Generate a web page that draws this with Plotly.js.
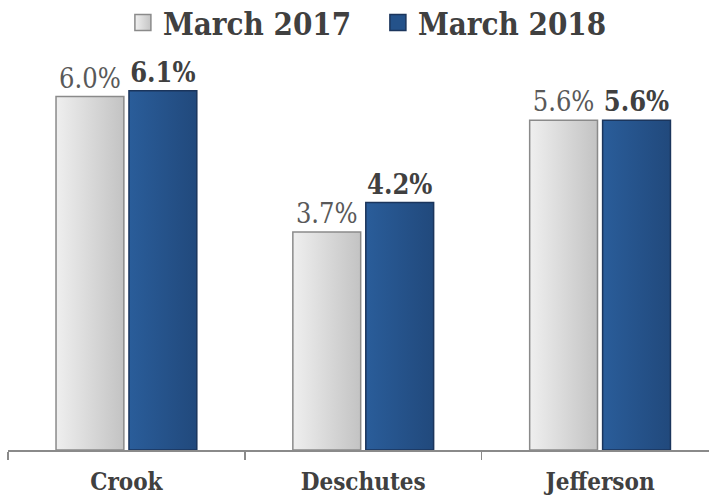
<!DOCTYPE html>
<html>
<head>
<meta charset="utf-8">
<script src="https://cdn.plot.ly/plotly-3.0.1.min.js"></script>
<style>html,body{margin:0;padding:0;background:#fff;}#chart{width:709px;height:497px;}</style>
</head>
<body>
<div id="chart"></div>
<script>
var categories = ["Crook", "Deschutes", "Jefferson"];
var seriesNames = ["March 2017", "March 2018"];
var values2017 = [6.0, 3.7, 5.6];
var values2018 = [6.1, 4.2, 5.6];

function fmt(v){ return v.toFixed(1) + "%"; }
var FONT = "'DejaVu Serif Condensed', 'DejaVu Serif', serif";

var traces = [
  {
    type: "bar", name: seriesNames[0], x: categories, y: values2017,
    text: values2017.map(fmt), textposition: "outside", cliponaxis: false,
    textfont: {family: FONT, size: 27, color: "#595959"},
    marker: {color: "#d9d9d9", line: {color: "#8a8a8a", width: 1.5}},
    showlegend: false, hoverinfo: "none"
  },
  {
    type: "bar", name: seriesNames[1], x: categories, y: values2018,
    text: values2018.map(fmt), textposition: "outside", cliponaxis: false,
    textfont: {family: FONT, size: 27, color: "#404040", weight: "bold"},
    marker: {color: "#24528a", line: {color: "#1b355c", width: 1.5}},
    showlegend: false, hoverinfo: "none"
  },
  {
    type: "scatter", mode: "markers", name: seriesNames[0], x: [null], y: [null],
    marker: {symbol: "square", size: 16, color: "#f0f0f0", gradient: {type: "horizontal", color: "#c4c4c4"}, line: {color: "#8a8a8a", width: 1.5}},
    showlegend: true, hoverinfo: "none"
  },
  {
    type: "scatter", mode: "markers", name: seriesNames[1], x: [null], y: [null],
    marker: {symbol: "square", size: 16, color: "#24528a", line: {color: "#1b355c", width: 1.5}},
    showlegend: true, hoverinfo: "none"
  }
];

var layout = {
  width: 709, height: 497,
  margin: {l: 8, r: 0, t: 60, b: 47},
  paper_bgcolor: "#ffffff", plot_bgcolor: "#ffffff",
  barmode: "group", bargap: 0.384, bargroupgap: 0.07,
  font: {family: FONT, color: "#404040"},
  showlegend: true,
  legend: {
    orientation: "h", xref: "container", yref: "container",
    x: 0.533, xanchor: "center", y: 0.954, yanchor: "middle",
    font: {family: FONT, size: 31, color: "#404040", weight: "bold"},
    entrywidth: 210,
    itemsizing: "trace", tracegroupgap: 0, itemclick: false, itemdoubleclick: false
  },
  xaxis: {
    type: "category", range: [-0.5, 2.46],
    showline: true, linecolor: "#8a8a8a", linewidth: 1.5,
    ticks: "outside", tickson: "boundaries", ticklen: 8, tickwidth: 1.5, tickcolor: "#8a8a8a",
    tickfont: {family: FONT, size: 24, color: "#404040", weight: "bold"},
    ticklabelstandoff: 10,
    showgrid: false, zeroline: false, fixedrange: true
  },
  yaxis: {
    range: [0, 390 / 58.9],
    visible: false, showgrid: false, zeroline: false, fixedrange: true
  }
};

Plotly.newPlot("chart", traces, layout, {displayModeBar: false, staticPlot: true}).then(function(gd){
  var svg = gd.querySelector("svg.main-svg");
  var ns = "http://www.w3.org/2000/svg";
  var defs = svg.querySelector("defs") || svg.insertBefore(document.createElementNS(ns, "defs"), svg.firstChild);
  function grad(id, c1, c2){
    var g = document.createElementNS(ns, "linearGradient");
    g.setAttribute("id", id); g.setAttribute("x1", "0"); g.setAttribute("x2", "1"); g.setAttribute("y1", "0"); g.setAttribute("y2", "0");
    [[0, c1], [1, c2]].forEach(function(s){
      var st = document.createElementNS(ns, "stop");
      st.setAttribute("offset", s[0]); st.setAttribute("stop-color", s[1]);
      g.appendChild(st);
    });
    defs.appendChild(g);
  }
  grad("g2017", "#efefef", "#c3c3c3");
  grad("g2018", "#2a5d9a", "#21497c");
  var groups = gd.querySelectorAll(".barlayer .trace.bars");
  var ids = ["g2017", "g2018"];
  groups.forEach(function(tr, i){
    tr.querySelectorAll("path").forEach(function(p){ p.style.fill = "url(#" + ids[i] + ")"; });
  });
});
</script>
</body>
</html>
